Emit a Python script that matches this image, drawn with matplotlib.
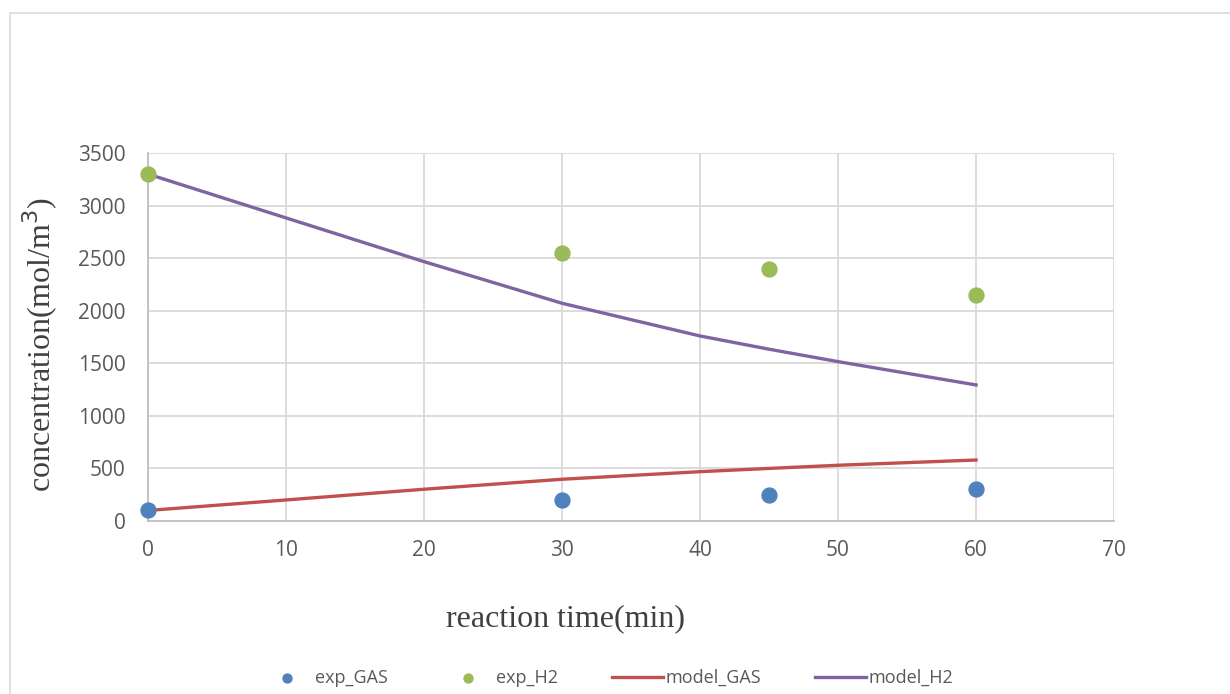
import matplotlib
matplotlib.use('Agg')
import matplotlib.pyplot as plt
from matplotlib.patches import Rectangle

# data
exp_t = [0, 30, 45, 60]
exp_gas = [100, 200, 250, 300]
exp_h2 = [3300, 2550, 2400, 2150]

model_t = [0, 10, 20, 30, 40, 45, 50, 60]
model_gas = [100, 200, 302, 397, 469, 500, 530, 580]
model_h2 = [3300, 2883, 2467, 2071, 1760, 1634, 1516, 1294]

fig = plt.figure(figsize=(12.3, 6.94), dpi=100)
ax = fig.add_axes([0.1203, 0.2493, 0.7854, 0.5302])

ax.plot(model_t, model_gas, color='#c0504d', lw=2.4, label='model_GAS', zorder=3)
ax.plot(model_t, model_h2, color='#8064a2', lw=2.4, label='model_H2', zorder=3)
ax.scatter(exp_t, exp_gas, s=115, color='#4f81bd', label='exp_GAS', zorder=4, clip_on=False)
ax.scatter(exp_t, exp_h2, s=115, color='#9bbb59', label='exp_H2', zorder=4, clip_on=False)

ax.set_xlim(0, 70)
ax.set_ylim(0, 3500)
ax.set_xticks(range(0, 71, 10))
ax.set_yticks(range(0, 3501, 500))
ax.grid(True, color='#d9d9d9', lw=1.3)
ax.set_axisbelow(True)
for s in ['top', 'right']:
    ax.spines[s].set_visible(False)
for s in ['left', 'bottom']:
    ax.spines[s].set_color('#bfbfbf')
    ax.spines[s].set_linewidth(1.3)
ax.tick_params(length=0, labelsize=15, labelcolor='#595959')
ax.tick_params(axis='y', pad=16)
ax.tick_params(axis='x', pad=14)
for lab in ax.get_xticklabels() + ax.get_yticklabels():
    lab.set_family('Open Sans')

fig.text(0.0325, 0.503, 'concentration(mol/m$^3$)', rotation=90, ha='center', va='center',
         family='Liberation Serif', fontsize=23, color='#404040')
fig.text(0.46, 0.108, 'reaction time(min)', ha='center', va='center',
         family='Liberation Serif', fontsize=23, color='#404040')

handles, labels = ax.get_legend_handles_labels()
order = [2, 3, 0, 1]
leg = fig.legend([handles[i] for i in order], [labels[i] for i in order],
                 loc='center', bbox_to_anchor=(0.494, 0.023), ncol=4, frameon=False,
                 columnspacing=3.0, handlelength=2.8, handletextpad=0.15,
                 markerscale=0.6, prop={'family': 'Open Sans', 'size': 13})
for t in leg.get_texts():
    t.set_color('#595959')

fig.patches.append(Rectangle((10 / 1230, -0.01), 1.0, 1 - 13 / 694 + 0.01,
                             transform=fig.transFigure, fill=False,
                             edgecolor='#d9d9d9', lw=1.2))

fig.savefig('out.png', dpi=100)
